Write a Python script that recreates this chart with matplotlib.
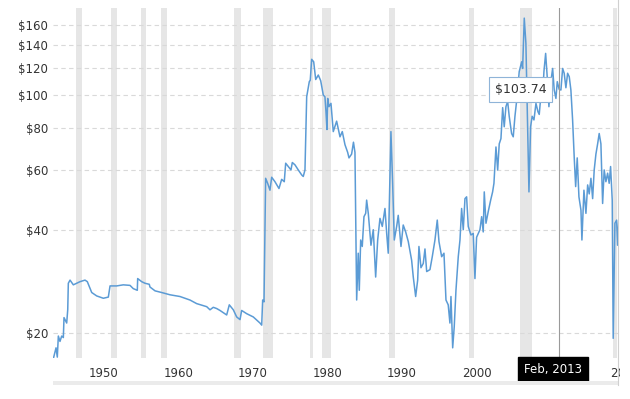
import numpy as np
import matplotlib.pyplot as plt
import matplotlib.transforms as mtransforms
from matplotlib.lines import Line2D
from matplotlib.patches import Rectangle
from matplotlib.ticker import NullLocator

# crude oil price, inflation adjusted (years as read on the chart's own axis)
years = [1943.19, 1943.56, 1943.73, 1943.87, 1944.09, 1944.32, 1944.54, 1944.63, 1944.99, 1945.13,
         1945.21, 1945.44, 1945.88, 1946.34, 1946.78, 1947.45, 1947.76, 1948.35, 1949.02, 1949.46,
         1949.91, 1950.58, 1950.81, 1951.70, 1952.59, 1953.49, 1953.93, 1954.47, 1954.52, 1955.06,
         1955.50, 1956.08, 1956.17, 1956.85, 1957.74, 1958.86, 1960.20, 1961.54, 1962.44, 1963.79,
         1964.23, 1964.67, 1965.13, 1965.57, 1966.47, 1966.82, 1967.36, 1967.81, 1968.26, 1968.48,
         1969.15, 1970.04, 1970.94, 1971.17, 1971.30, 1971.48, 1971.70, 1971.97, 1972.28, 1972.51,
         1972.95, 1973.49, 1973.85, 1974.20, 1974.39, 1974.74, 1975.10, 1975.28, 1975.64, 1976.08,
         1976.54, 1976.75, 1976.98, 1977.21, 1977.56, 1977.69, 1977.88, 1978.15, 1978.42, 1978.77,
         1979.09, 1979.44, 1979.66, 1979.80, 1979.93, 1980.03, 1980.20, 1980.47, 1980.78, 1981.23,
         1981.68, 1981.99, 1982.35, 1982.71, 1982.89, 1983.24, 1983.49, 1983.69, 1983.92, 1984.13,
         1984.27, 1984.46, 1984.67, 1984.90, 1985.13, 1985.26, 1985.48, 1985.84, 1986.15, 1986.47,
         1986.74, 1987.05, 1987.36, 1987.72, 1987.95, 1988.16, 1988.52, 1988.75, 1988.97, 1989.29,
         1989.50, 1989.87, 1990.17, 1990.50, 1990.85, 1991.30, 1991.52, 1991.84, 1992.11, 1992.28,
         1992.55, 1992.86, 1993.09, 1993.32, 1993.76, 1994.07, 1994.43, 1994.74, 1994.97, 1995.33,
         1995.64, 1995.91, 1996.21, 1996.44, 1996.58, 1996.81, 1997.02, 1997.25, 1997.56, 1997.79,
         1998.01, 1998.23, 1998.46, 1998.68, 1998.90, 1999.26, 1999.57, 1999.80, 2000.02, 2000.47,
         2000.70, 2000.91, 2001.05, 2001.28, 2001.58, 2001.91, 2002.17, 2002.35, 2002.62, 2002.85,
         2003.06, 2003.29, 2003.52, 2003.73, 2003.96, 2004.19, 2004.40, 2004.72, 2004.94, 2005.17,
         2005.48, 2005.74, 2006.07, 2006.20, 2006.42, 2006.64, 2006.82, 2007.05, 2007.27, 2007.48,
         2007.72, 2007.99, 2008.26, 2008.43, 2008.62, 2008.89, 2009.06, 2009.29, 2009.50, 2009.73,
         2009.96, 2010.23, 2010.44, 2010.67, 2010.85, 2011.11, 2011.34, 2011.57, 2011.78, 2012.01,
         2012.24, 2012.46, 2012.68, 2012.91, 2013.13, 2013.32, 2013.53, 2013.76, 2014.03, 2014.16,
         2014.43, 2014.70, 2014.93, 2015.14, 2015.37, 2015.60, 2015.81, 2016.04, 2016.27, 2016.48,
         2016.71, 2016.94, 2017.15, 2017.38, 2017.61, 2017.82, 2018.01, 2018.23, 2018.36, 2018.59,
         2018.82, 2018.95, 2019.26]
price = [16.8, 18.1, 17.0, 19.6, 18.9, 19.6, 19.4, 22.2, 21.4, 23.4,
         28.0, 28.6, 27.7, 28.0, 28.3, 28.6, 28.3, 26.3, 25.7, 25.5,
         25.3, 25.5, 27.5, 27.5, 27.7, 27.6, 27.0, 26.7, 28.9, 28.3,
         28.0, 27.8, 27.3, 26.6, 26.3, 25.9, 25.6, 25.0, 24.4, 23.9,
         23.4, 23.8, 23.6, 23.3, 22.6, 24.2, 23.4, 22.3, 21.9, 23.3,
         22.8, 22.3, 21.4, 21.1, 25.0, 24.7, 56.9, 55.0, 52.5, 57.3,
         55.6, 53.1, 56.5, 55.6, 63.0, 61.6, 60.2, 63.3, 62.3, 60.2,
         58.2, 57.6, 60.2, 98.7, 109.3, 110.4, 127.1, 125.0, 110.9, 114.3,
         110.0, 99.8, 98.7, 89.2, 79.1, 97.6, 92.3, 94.4, 78.0, 83.7,
         75.3, 78.0, 71.4, 67.8, 65.3, 67.0, 72.6, 67.8, 25.0, 34.3,
         26.7, 37.5, 35.9, 43.9, 44.9, 49.1, 44.9, 36.2, 40.2, 29.2,
         37.5, 43.4, 41.1, 46.4, 39.2, 34.3, 78.0, 55.0, 37.5, 41.1,
         44.3, 35.9, 41.5, 39.6, 37.1, 32.7, 29.2, 25.6, 28.6, 35.9,
         31.1, 32.0, 35.3, 30.3, 30.7, 33.5, 37.5, 42.9, 37.1, 33.5,
         34.3, 25.0, 24.2, 21.4, 25.6, 18.1, 20.9, 26.7, 33.5, 37.5,
         46.4, 40.2, 49.6, 50.2, 41.1, 38.8, 39.2, 28.9, 38.2, 40.2,
         43.9, 39.6, 51.9, 42.0, 45.4, 49.1, 51.9, 55.0, 70.3, 60.2,
         71.8, 74.4, 91.7, 80.6, 92.3, 95.6, 86.5, 77.0, 75.3, 86.5,
         99.8, 116.9, 125.0, 119.5, 167.9, 141.6, 90.5, 51.9, 80.6, 86.5,
         84.4, 94.4, 89.2, 87.6, 97.6, 99.8, 116.9, 132.3, 113.0, 92.3,
         108.1, 119.5, 103.3, 97.6, 109.3, 103.74, 103.3, 119.5, 115.7, 104.9,
         115.7, 113.0, 103.3, 84.4, 65.3, 53.8, 65.3, 50.2, 45.9, 37.5,
         52.5, 44.9, 54.4, 51.2, 56.9, 49.6, 60.2, 67.0, 71.8, 77.0,
         71.8, 48.0, 60.2, 55.6, 58.9, 55.0, 61.6, 49.1, 19.3, 42.0,
         42.9, 36.2, 50.2]

# recession bands
rec_start = [1946.2, 1950.9, 1955.0, 1957.7, 1967.5, 1971.4, 1977.7, 1979.2, 1988.2, 1999.0, 2005.9, 2018.3]
rec_end = [1947.1, 1951.7, 1955.7, 1958.5, 1968.4, 1972.7, 1978.1, 1980.5, 1989.0, 1999.7, 2007.5, 2018.9]

x_ticks = [1950, 1960, 1970, 1980, 1990, 2000]
y_ticks = [20, 40, 60, 80, 100, 120, 140, 160]

hover_year = 2011.11
hover_price = 103.74
hover_label = 'Feb, 2013'

fig = plt.figure(figsize=(6.3, 3.99), dpi=100)
ax = fig.add_axes([0.0841, 0.1028, 0.8968, 0.8772])

for s, e in zip(rec_start, rec_end):
    ax.axvspan(s, e, color='#e6e6e6', lw=0, zorder=0)

for v in y_ticks:
    ax.axhline(v, color='#d9d9d9', lw=0.8, ls=(0, (4, 3)), zorder=1)

ax.plot(years, price, color='#5b9bd5', lw=1.1, zorder=3)

ax.set_yscale('log')
ax.set_ylim(16.9, 179.8)
ax.set_xlim(1943.15, 2019.0)
ax.set_yticks(y_ticks)
ax.set_yticklabels(['$' + str(v) for v in y_ticks])
ax.yaxis.set_minor_locator(NullLocator())
ax.set_xticks(x_ticks)
ax.set_xticklabels([str(v) for v in x_ticks])
ax.tick_params(length=0, labelsize=8.5, colors='#333333')
ax.tick_params(axis='x', pad=6.5)
ax.tick_params(axis='y', pad=3.6)
for sp in ax.spines.values():
    sp.set_visible(False)

# 2020 label cut off at the right edge
lab = ax.annotate('2020', xy=(2020, 0), xycoords=('data', 'axes fraction'),
                  xytext=(0, -6.5), textcoords='offset points', ha='center', va='top',
                  fontsize=8.5, color='#333333', annotation_clip=False)
lab.set_clip_box(mtransforms.Bbox([[0, 0], [620, 399]]))
lab.set_clip_on(True)

# crosshair + tooltip
ax.axvline(hover_year, color='#9a9a9a', lw=0.8, zorder=4)
blend = mtransforms.blended_transform_factory(ax.transData, ax.transAxes)
ax.text(hover_year - 0.78, -0.034, hover_label, transform=blend, ha='center', va='center',
        color='white', fontsize=8.5, zorder=10, clip_on=False,
        bbox=dict(boxstyle='square,pad=0.5', fc='black', ec='black'))
ax.text(2005.95, hover_price, '$' + f'{hover_price:.2f}', ha='center', va='center',
        color='#333333', fontsize=9, zorder=10,
        bbox=dict(boxstyle='square,pad=0.45', fc='white', ec='#8fb4d8', lw=0.8))

# navigator strip and right border
fig.patches.append(Rectangle((0.0841, 0.035), 0.8968, 0.010, transform=fig.transFigure,
                             fc='#ebebeb', ec='none'))
fig.lines.append(Line2D([0.981, 0.981], [0.035, 1.0], transform=fig.transFigure,
                        color='#d0d0d0', lw=0.8))

fig.savefig('out.png', dpi=100)
